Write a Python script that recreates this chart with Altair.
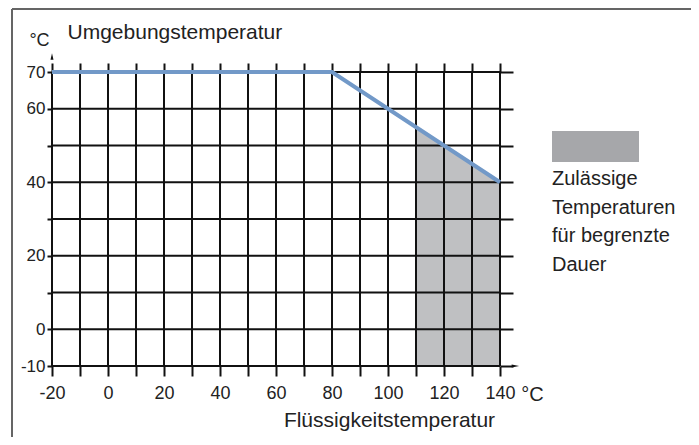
import altair as alt
import pandas as pd

# ---- data ----
grid_x = list(range(-20, 141, 10))
grid_y = list(range(-10, 71, 10))
x_label_values = [-20, 0, 20, 40, 60, 80, 100, 120, 140]
y_label_values = [-10, 0, 20, 40, 60, 70]

line_x = [-20, 80, 140]
line_y = [70, 70, 40]

area_x = [110, 140]
area_top = [55, 40]
area_bottom = [-10, -10]

arrow_x = [-20, 145.5]
arrow_y = [74.2, -10]

legend_lines = ["Zulässige", "Temperaturen", "für begrenzte", "Dauer"]
legend_key = ["Zulässige Temperaturen für begrenzte Dauer"]

# ---- frames ----
gx_df = pd.DataFrame({"x": grid_x})
gy_df = pd.DataFrame({"y": grid_y})
line_df = pd.DataFrame({"x": line_x, "y": line_y})
area_df = pd.DataFrame({"x": area_x, "top": area_top, "bottom": area_bottom,
                        "k": legend_key * len(area_x)})
up_df = pd.DataFrame({"x": arrow_x[:1], "y": arrow_y[:1]})
right_df = pd.DataFrame({"x": arrow_x[1:], "y": arrow_y[1:]})

NUM_FONT = "Liberation Sans Narrow, Liberation Sans, Arial, sans-serif"
TXT_FONT = "Liberation Sans, Arial, sans-serif"
INK = "#111111"
TXT = "#222222"

xs = alt.Scale(domain=[-20, 140], nice=False, zero=False)
ys = alt.Scale(domain=[-10, 70], nice=False, zero=False)


def lab_expr(vals):
    return ("indexof([" + ",".join(str(v) for v in vals)
            + "], datum.value) >= 0 ? '' + datum.value : ''")


x_bottom = alt.Axis(orient="bottom", values=grid_x, labelExpr=lab_expr(x_label_values),
                    tickSize=10, tickWidth=2, tickColor=INK, domain=False, grid=False,
                    labelFont=NUM_FONT, labelFontSize=18, labelColor=TXT, labelPadding=8,
                    labelFlush=False, labelOverlap=False,
                    title="Flüssigkeitstemperatur", titleFont=TXT_FONT, titleFontSize=21,
                    titleFontWeight="normal", titleColor=TXT, titleX=337, titleY=54,
                    titleAlign="center", titleBaseline="middle")
y_left = alt.Axis(orient="left", values=grid_y, labelExpr=lab_expr(y_label_values),
                  tickSize=5, tickWidth=2, tickColor=INK, domain=False, grid=False,
                  labelFont=NUM_FONT, labelFontSize=17, labelColor=TXT, labelPadding=2,
                  labelFlush=False, labelOverlap=False,
                  title="°C", titleFont=NUM_FONT, titleFontSize=18, titleFontWeight="normal",
                  titleColor=TXT, titleAngle=0, titleX=-13, titleY=-32,
                  titleAlign="center", titleBaseline="middle")
x_top = alt.Axis(orient="top", values=grid_x, tickSize=9, tickWidth=2, tickColor=INK,
                 domain=False, grid=False, labels=False,
                 title="Umgebungstemperatur", titleFont=TXT_FONT, titleFontSize=21,
                 titleFontWeight="normal", titleColor=TXT, titleX=15, titleY=-40,
                 titleAlign="left", titleBaseline="middle")
y_right = alt.Axis(orient="right", values=grid_y, tickSize=13, tickWidth=2, tickColor=INK,
                   domain=False, grid=False, labels=False,
                   title="°C", titleFont=NUM_FONT, titleFontSize=20, titleFontWeight="normal",
                   titleColor=TXT, titleAngle=0, titleX=32, titleY=322,
                   titleAlign="center", titleBaseline="middle")

legend = alt.Legend(orient="none", legendX=500, legendY=59, padding=0,
                    title=legend_lines, titleOrient="bottom", titleAnchor="start",
                    titleFont=TXT_FONT, titleFontSize=20, titleFontWeight="normal",
                    titleLineHeight=28.5, titleColor=TXT, titlePadding=7,
                    labelExpr="''", labelFontSize=1,
                    symbolType="M-1,-1H4.613V1H-1Z", symbolSize=961,
                    symbolStrokeWidth=0, symbolOpacity=1)

area = alt.Chart(area_df).mark_area(opacity=0.72).encode(
    x=alt.X("x:Q", scale=xs, axis=x_bottom),
    y=alt.Y("top:Q", scale=ys, axis=y_left),
    y2="bottom:Q",
    color=alt.Color("k:N", scale=alt.Scale(range=["#a6a7aa"]), legend=legend),
)

vrules = alt.Chart(gx_df).mark_rule(color=INK, strokeWidth=2).encode(
    x=alt.X("x:Q", scale=xs, axis=None))
hrules = alt.Chart(gy_df).mark_rule(color=INK, strokeWidth=2).encode(
    y=alt.Y("y:Q", scale=ys, axis=None))

line = alt.Chart(line_df).mark_line(color="#7299c8", strokeWidth=4).encode(
    x=alt.X("x:Q", scale=xs, axis=None),
    y=alt.Y("y:Q", scale=ys, axis=None))

up = alt.Chart(up_df).mark_point(filled=True, color=INK, opacity=1, size=169,
                                 shape="M0,-0.5L0.23,0.5L-0.23,0.5Z").encode(
    x=alt.X("x:Q", scale=xs, axis=None), y=alt.Y("y:Q", scale=ys, axis=None))
right = alt.Chart(right_df).mark_point(filled=True, color=INK, opacity=1, size=225,
                                       shape="M0.5,0L-0.5,0.2L-0.5,-0.2Z").encode(
    x=alt.X("x:Q", scale=xs, axis=None), y=alt.Y("y:Q", scale=ys, axis=None))

extra_axes = alt.Chart(area_df).mark_point(opacity=0).encode(
    x=alt.X("x:Q", scale=xs, axis=x_top),
    y=alt.Y("top:Q", scale=ys, axis=y_right))

frame_top = alt.Chart(gx_df).mark_rule(color="#666666", strokeWidth=1.5).encode(
    x=alt.value(-40), x2=alt.value(647), y=alt.value(-63), y2=alt.value(-63))
frame_left = alt.Chart(gx_df).mark_rule(color="#666666", strokeWidth=1.5).encode(
    x=alt.value(-40), x2=alt.value(-40), y=alt.value(-63), y2=alt.value(366))

chart = alt.layer(
    area, vrules, hrules, line, up, right, extra_axes, frame_top, frame_left
).resolve_scale(x="independent", y="independent").properties(
    width=448, height=294,
    autosize=alt.AutoSizeParams(type="none"),
    padding={"left": 44, "top": 64, "right": 191, "bottom": 71},
).configure_view(stroke=None)

chart.save("out.html", embed_options={"renderer": "svg", "actions": False})
